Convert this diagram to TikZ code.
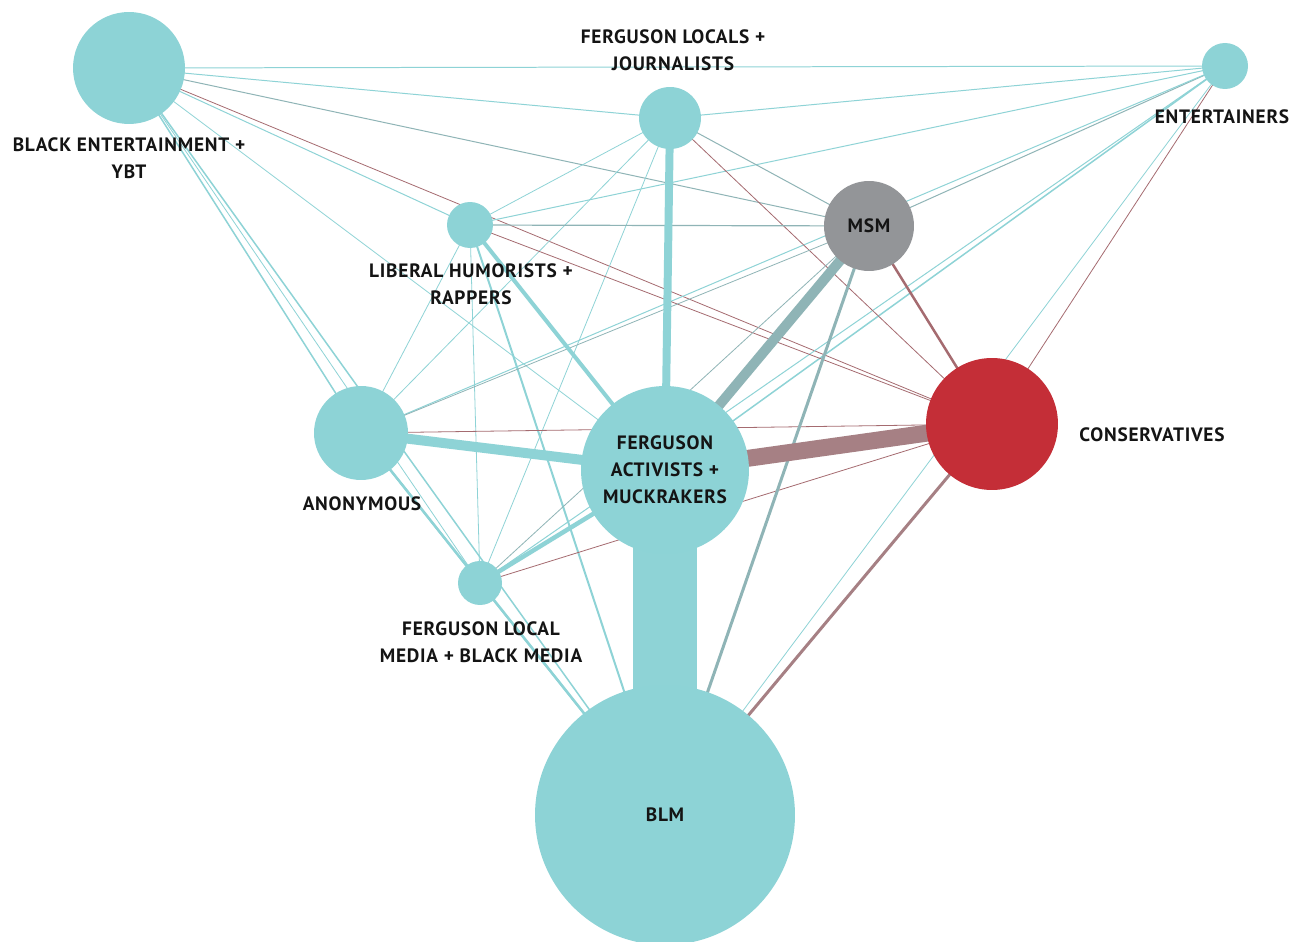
\documentclass[tikz,border=0pt]{standalone}
\usepackage{fontspec}
\setmainfont{PT Sans}[LetterSpace=4]
\usetikzlibrary{positioning,backgrounds}

\definecolor{nodeteal}{HTML}{8DD3D6}
\definecolor{msmgrey}{HTML}{939598}
\definecolor{conred}{HTML}{C42E37}
\definecolor{edgeteal}{HTML}{8ED3D6}
\definecolor{edgegrey}{HTML}{8FB4B6}
\definecolor{edgemauve}{HTML}{A68084}
\definecolor{edgered}{HTML}{A56B70}
\definecolor{inkblack}{HTML}{141414}

\newcommand{\lblfont}{\bfseries\fontsize{11}{15.3}\selectfont}

\tikzset{
  dot/.style={circle,fill=nodeteal,inner sep=0pt,minimum size=#1*0.4mm,
    font=\lblfont,text=inkblack,align=center},
  lbl/.style={font=\lblfont,text=inkblack,align=center},
  tealln/.style={draw=edgeteal,line width=#1*0.567pt},
  greyln/.style={draw=edgegrey,line width=#1*0.567pt},
  redln/.style={draw=edgered,line width=#1*0.567pt},
  mauveln/.style={draw=edgemauve,line width=#1*0.567pt}
}

\begin{document}
\begin{tikzpicture}[x=0.02cm,y=-0.02cm]
\useasboundingbox (0,0) rectangle (1296,942);

% groups (one unit = one pixel of the chart)
\node[dot=56] (bet) at (129,68) {};
\node[dot=31] (flj) at (670,118) {};
\node[dot=23] (ent) at (1225,66) {};
\node[dot=23] (lhr) at (470,225) {};
\node[dot=45,fill=msmgrey] (msm) at (869,226) {MSM};
\node[dot=66,fill=conred] (con) at (992,424) {};
\node[dot=84] (fam) at (665,470) {FERGUSON\\ACTIVISTS +\\MUCKRAKERS};
\node[dot=47] (anon) at (361,433) {};
\node[dot=22] (flm) at (480,583) {};
\node[dot=130] (blm) at (665,815) {BLM};

% labels
\node[lbl] (betlbl) at (129,158) {BLACK ENTERTAINMENT +\\YBT};
\node[lbl] (fljlbl) at (673,50) {FERGUSON LOCALS +\\JOURNALISTS};
\node[lbl] (entlbl) at (1222,117) {ENTERTAINERS};
\node[lbl] (lhrlbl) at (471,284) {LIBERAL HUMORISTS +\\RAPPERS};
\node[lbl] (conlbl) at (1152,435) {CONSERVATIVES};
\node[lbl] (anonlbl) at (362,504) {ANONYMOUS};
\node[lbl] (flmlbl) at (481,642) {FERGUSON LOCAL\\MEDIA + BLACK MEDIA};

\begin{pgfonlayer}{background}
\fill[white] (0,0) rectangle (1296,942);
% thin links
\draw[tealln=1] (bet.center) -- (ent.center);
\draw[tealln=1] (bet.center) -- (flj.center);
\draw[greyln=1] (bet.center) -- (msm.center);
\draw[redln=0.8] (bet.center) -- (con.center);
\draw[tealln=1] (bet.center) -- (lhr.center);
\draw[tealln=0.8] (bet.center) -- (fam.center);
\draw[tealln=1.5] (bet.center) -- (anon.center);
\draw[tealln=0.8] (bet.center) -- (flm.center);
\draw[tealln=1.5] (bet.center) -- (blm.center);
\draw[tealln=1] (ent.center) -- (flj.center);
\draw[tealln=1] (ent.center) -- (lhr.center);
\draw[greyln=1] (ent.center) -- (msm.center);
\draw[tealln=1] (ent.center) -- (anon.center);
\draw[tealln=1.5] (ent.center) -- (fam.center);
\draw[tealln=1] (ent.center) -- (flm.center);
\draw[tealln=0.8] (ent.center) -- (blm.center);
\draw[redln=0.8] (ent.center) -- (con.center);
\draw[tealln=0.8] (flj.center) -- (lhr.center);
\draw[tealln=0.8] (flj.center) -- (anon.center);
\draw[tealln=0.8] (flj.center) -- (flm.center);
\draw[greyln=1] (flj.center) -- (msm.center);
\draw[redln=0.8] (flj.center) -- (con.center);
\draw[greyln=1.2] (lhr.center) -- (msm.center);
\draw[redln=0.8] (lhr.center) -- (con.center);
\draw[tealln=2] (lhr.center) -- (blm.center);
\draw[tealln=0.8] (lhr.center) -- (flm.center);
\draw[tealln=0.8] (lhr.center) -- (anon.center);
\draw[greyln=0.8] (msm.center) -- (anon.center);
\draw[greyln=0.8] (msm.center) -- (flm.center);
\draw[redln=0.8] (con.center) -- (anon.center);
\draw[redln=0.8] (con.center) -- (flm.center);
% heavier links
\draw[tealln=2.5] (anon.center) -- (blm.center);
\draw[tealln=2] (anon.center) -- (flm.center);
\draw[tealln=2] (flm.center) -- (blm.center);
\draw[greyln=3] (msm.center) -- (blm.center);
\draw[redln=2.5] (msm.center) -- (con.center);
\draw[mauveln=3] (con.center) -- (blm.center);
\draw[tealln=4] (lhr.center) -- (fam.center);
\draw[tealln=4.5] (fam.center) -- (flm.center);
\draw[tealln=8] (flj.center) -- (fam.center);
\draw[greyln=10] (msm.center) -- (fam.center);
\draw[tealln=10] (anon.center) -- (fam.center);
\draw[mauveln=17] (con.center) -- (fam.center);
\draw[tealln=64] (fam.center) -- (blm.center);
\end{pgfonlayer}
\end{tikzpicture}
\end{document}
